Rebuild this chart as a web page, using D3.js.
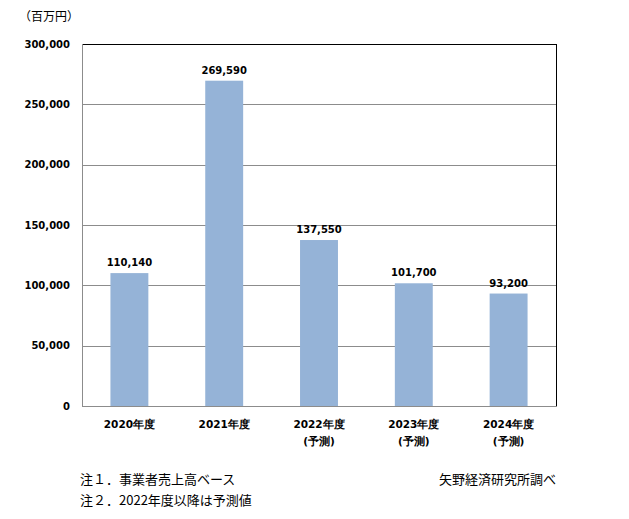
<!DOCTYPE html>
<html><head><meta charset="utf-8">
<script src="https://cdn.jsdelivr.net/npm/d3@7"></script>
<style>body{margin:0;background:#fff;}</style>
</head><body>
<svg id="c" width="629" height="519"></svg>
<script>
const categories = [["2020年度"],["2021年度"],["2022年度","(予測)"],["2023年度","(予測)"],["2024年度","(予測)"]];
const values = [110140, 269590, 137550, 101700, 93200];
const yTicks = [0, 50000, 100000, 150000, 200000, 250000, 300000];
const unitLabel = "（百万円）";
const notes = ["注１．事業者売上高ベース", "注２．2022年度以降は予測値"];
const source = "矢野経済研究所調べ";

const svg = d3.select("#c");
const m = {left: 82, right: 556, top: 44, bottom: 406};
const x = d3.scaleBand().domain(d3.range(values.length)).range([m.left, m.right]).paddingInner(0.6).paddingOuter(0.3);
const y = d3.scaleLinear().domain([0, 300000]).range([m.bottom, m.top]);
const fmt = d3.format(",");
const boldFont = "'DejaVu Sans', Verdana, sans-serif";
const cjk = "'Noto Sans CJK JP', sans-serif";

// gridlines
svg.append("g").selectAll("line").data(yTicks.filter(d => d > 0 && d < 300000)).join("line")
  .attr("x1", m.left).attr("x2", m.right)
  .attr("y1", d => Math.round(y(d)) + 0.5).attr("y2", d => Math.round(y(d)) + 0.5)
  .attr("stroke", "#8c8c8c").attr("stroke-width", 1);

// bars
svg.append("g").selectAll("rect").data(values).join("rect")
  .attr("x", (d, i) => x(i)).attr("width", x.bandwidth())
  .attr("y", d => y(d)).attr("height", d => y(0) - y(d))
  .attr("fill", "#95b3d7");

// frame: top and right black, left and bottom gray
svg.append("line").attr("x1", m.left).attr("x2", m.right + 0.5).attr("y1", m.top + 0.5).attr("y2", m.top + 0.5).attr("stroke", "#000");
svg.append("line").attr("x1", m.right + 0.5).attr("x2", m.right + 0.5).attr("y1", m.top).attr("y2", m.bottom).attr("stroke", "#000");
svg.append("line").attr("x1", m.left + 0.5).attr("x2", m.left + 0.5).attr("y1", m.top).attr("y2", m.bottom + 0.5).attr("stroke", "#8c8c8c");
svg.append("line").attr("x1", m.left).attr("x2", m.right + 1).attr("y1", m.bottom + 0.5).attr("y2", m.bottom + 0.5).attr("stroke", "#8c8c8c");

// y axis labels
const yAxis = d3.axisLeft(y).tickValues(yTicks).tickFormat(fmt).tickSize(0).tickPadding(12);
const ya = svg.append("g").attr("transform", `translate(${m.left},0)`).call(yAxis);
ya.select(".domain").remove();
ya.selectAll("text").attr("font-family", boldFont).attr("font-weight", "bold").attr("font-size", "10px").attr("fill", "#000");

// value labels
svg.append("g").selectAll("text").data(values).join("text")
  .attr("x", (d, i) => x(i) + x.bandwidth() / 2).attr("y", d => y(d) - 7)
  .attr("text-anchor", "middle").attr("font-family", boldFont).attr("font-weight", "bold")
  .attr("font-size", "10px").text(d => fmt(d));

// category labels
const cg = svg.append("g").selectAll("text").data(categories).join("text")
  .attr("x", (d, i) => x(i) + x.bandwidth() / 2).attr("y", 428)
  .attr("text-anchor", "middle").attr("font-family", boldFont).attr("font-weight", "bold").attr("font-size", "10.5px");
cg.selectAll("tspan").data(d => d).join("tspan")
  .attr("x", function() { return this.parentNode.getAttribute("x"); })
  .attr("dy", (d, i) => i === 0 ? 0 : 17).text(d => d);

// unit
svg.append("text").attr("x", 19).attr("y", 21).attr("font-family", cjk).attr("font-size", "12px").text(unitLabel);

// notes
svg.append("g").selectAll("text").data(notes).join("text")
  .attr("x", 80).attr("y", (d, i) => 484 + i * 21)
  .attr("font-family", cjk).attr("font-size", "13px").text(d => d);
svg.append("text").attr("x", 556).attr("y", 484).attr("text-anchor", "end")
  .attr("font-family", cjk).attr("font-size", "13px").text(source);
</script>
</body></html>
